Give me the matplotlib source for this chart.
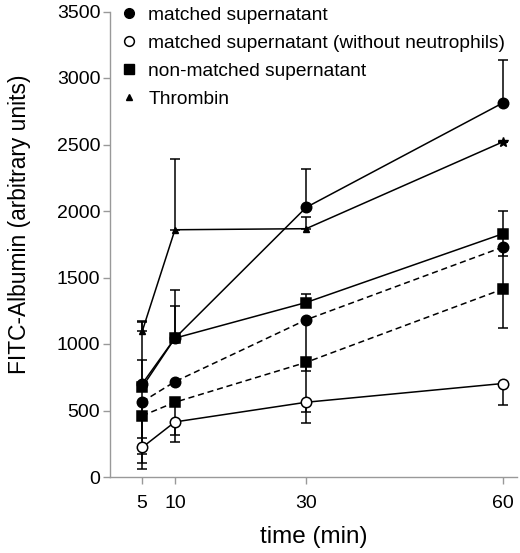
import numpy as np
import matplotlib
matplotlib.use('Agg')
import matplotlib.pyplot as plt
from matplotlib.lines import Line2D

plt.rcParams['font.family'] = ['Liberation Sans', 'DejaVu Sans']

times = [5, 10, 30, 60]

# matched supernatant (solid, filled circle)
matched = [700, 1044, 2027, 2813]
matched_lo = [0, 0, 0, 0]
matched_hi = [180, 360, 290, 320]

# matched supernatant (dashed, filled circle)
matched_d = [565, 717, 1182, 1729]
matched_d_lo = [460, 0, 384, 0]
matched_d_hi = [0, 0, 0, 0]

# matched supernatant without neutrophils (open circle)
noneut = [222, 414, 562, 703]
noneut_lo = [160, 100, 153, 160]
noneut_hi = [0, 0, 0, 0]

# non-matched supernatant (solid, square)
nonmatched = [675, 1044, 1312, 1829]
nonmatched_lo = [500, 0, 0, 170]
nonmatched_hi = [500, 240, 65, 170]

# non-matched supernatant (dashed, square)
nonmatched_d = [460, 562, 862, 1413]
nonmatched_d_lo = [170, 300, 376, 294]
nonmatched_d_hi = [0, 0, 0, 300]

# thrombin
thrombin = [1094, 1859, 1867, 2520]
thrombin_lo = [0, 0, 0, 0]
thrombin_hi = [70, 530, 90, 0]

legend_labels = ['matched supernatant',
                 'matched supernatant (without neutrophils)',
                 'non-matched supernatant',
                 'Thrombin']

fig = plt.figure(figsize=(5.2, 5.53), dpi=100)
ax = fig.add_axes([110/520, 1 - 477/553, (516.7 - 110)/520, (477 - 11.5)/553])

dash = (0, (4, 2.5))
series = [
    (matched, matched_lo, matched_hi, '-', 'o', 'black', 7.5),
    (matched_d, matched_d_lo, matched_d_hi, dash, 'o', 'black', 7.5),
    (noneut, noneut_lo, noneut_hi, '-', 'o', 'white', 7.5),
    (nonmatched, nonmatched_lo, nonmatched_hi, '-', 's', 'black', 7),
    (nonmatched_d, nonmatched_d_lo, nonmatched_d_hi, dash, 's', 'black', 7),
]

for y, lo, hi, ls, mk, fc, ms in series:
    ax.errorbar(times, y, yerr=[lo, hi], fmt='none', ecolor='black',
                elinewidth=1.1, capsize=3.6, capthick=1.1, zorder=1)
    ax.plot(times, y, linestyle=ls, color='black', linewidth=1.1,
            marker=mk, markersize=ms, markerfacecolor=fc,
            markeredgecolor='black', markeredgewidth=1.1, zorder=3)

ax.errorbar(times, thrombin, yerr=[thrombin_lo, thrombin_hi], fmt='none',
            ecolor='black', elinewidth=1.1, capsize=3.6, capthick=1.1, zorder=1)
ax.plot(times, thrombin, '-', color='black', linewidth=1.1, zorder=3)
ax.plot(times[:3], thrombin[:3], '^', color='black', markersize=5, zorder=3)
ax.plot(times[3:], thrombin[3:], '*', color='black', markersize=7, zorder=3)

ax.set_xlim(0.1, 62.1)
ax.set_ylim(0, 3500)
ax.set_xticks(times)
ax.set_yticks(np.arange(0, 3501, 500))

for side in ['top', 'right']:
    ax.spines[side].set_visible(False)
for side in ['left', 'bottom']:
    ax.spines[side].set_color('#999999')
    ax.spines[side].set_linewidth(1.0)
ax.tick_params(axis='both', colors='#999999', labelcolor='black',
               labelsize=14, length=5, width=1.0)
ax.tick_params(axis='y', pad=2)
ax.tick_params(axis='x', pad=8)

ax.set_xlabel('time (min)', fontsize=17.5, va='center')
ax.set_ylabel('FITC-Albumin (arbitrary units)', fontsize=16.4, va='center')
ax.xaxis.set_label_coords(0.5, (477 - 537) / 465.5)
ax.yaxis.set_label_coords((20 - 110) / 406.7, 0.5 + (244.25 - 224.5) / 465.5)

handles = [
    Line2D([], [], linestyle='none', marker='o', color='black', markersize=7),
    Line2D([], [], linestyle='none', marker='o', markerfacecolor='white',
           markeredgecolor='black', markersize=7, markeredgewidth=1.1),
    Line2D([], [], linestyle='none', marker='s', color='black', markersize=7),
    Line2D([], [], linestyle='none', marker='^', color='black', markersize=5),
]
ax.legend(handles, legend_labels, loc='upper left', bbox_to_anchor=(0.0, 1.035),
          frameon=False, fontsize=13.8, handlelength=0.8, handletextpad=0.6,
          labelspacing=0.55, borderaxespad=0.2)

fig.savefig('out.png', dpi=100)
